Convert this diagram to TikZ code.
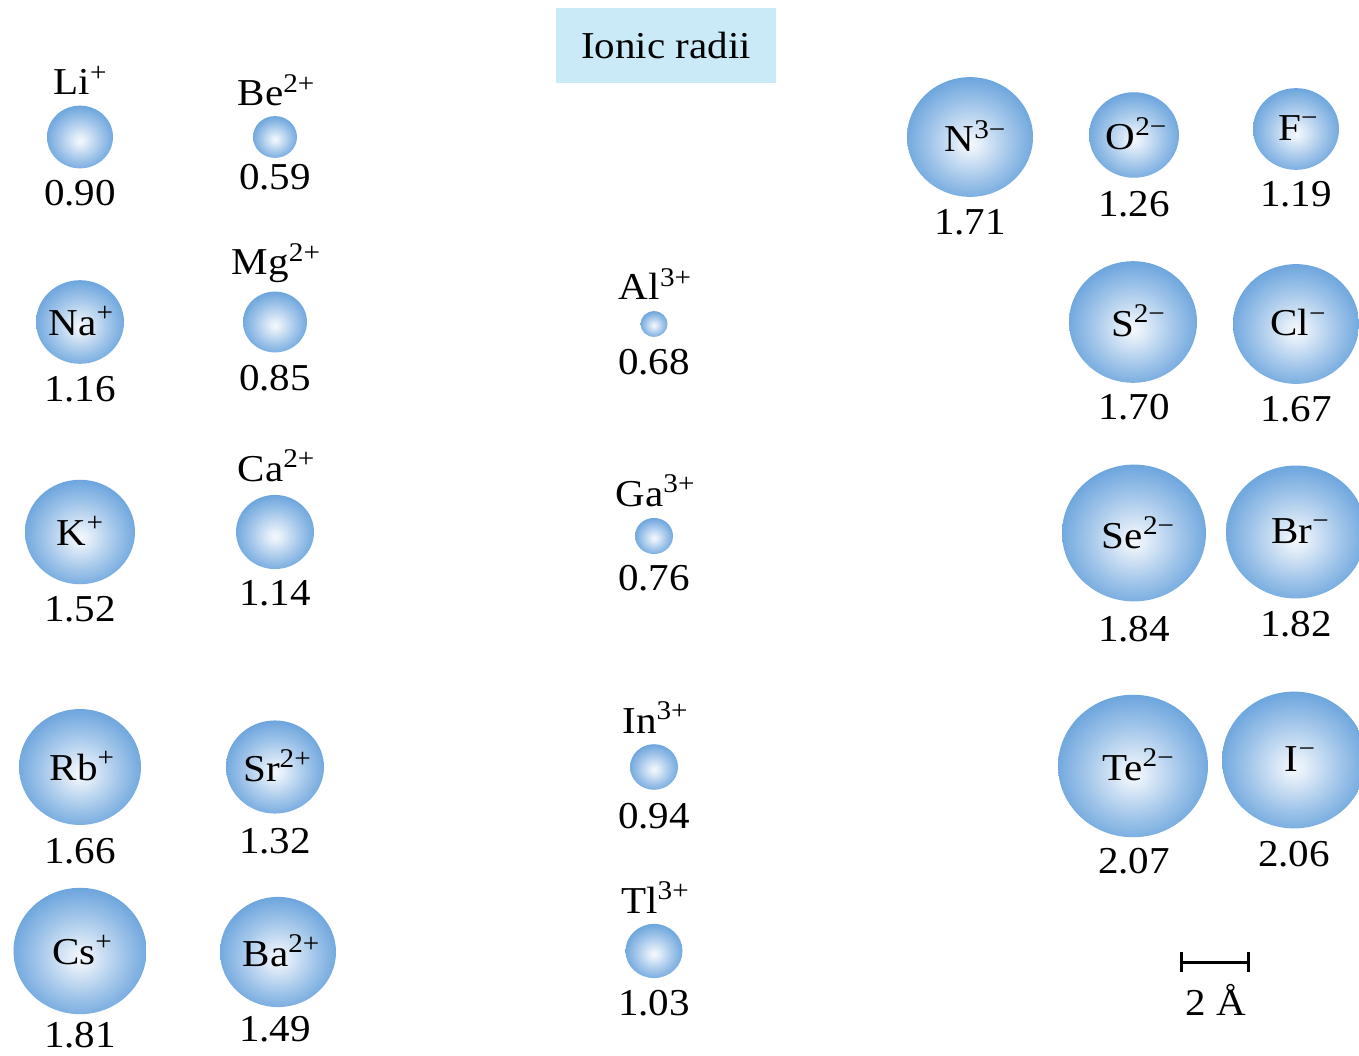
\documentclass[tikz,border=0pt]{standalone}
\usepackage{fontspec}
\setmainfont[FakeStretch=1.08]{Liberation Serif}
\usepackage{xcolor}
\usepackage{tikz}
\usetikzlibrary{arrows.meta,shapes.geometric}
\definecolor{ionblue}{RGB}{68,140,212}
\definecolor{titleblue}{RGB}{202,234,248}
\pgfdeclareradialshading{ionshade}{\pgfpoint{0bp}{-3bp}}{color(0bp)=(white!94!ionblue); color(4bp)=(white!85!ionblue); color(16bp)=(ionblue!50); color(30bp)=(ionblue!88); color(42bp)=(ionblue); color(50bp)=(ionblue!94!black)}
\tikzset{every node/.style={font=\fontsize{38}{42}\selectfont}}
\newcommand{\chg}[1]{\raisebox{0.36em}{\fontsize{27}{30}\selectfont #1}}
\newcommand{\pl}[1]{\chg{#1+}}
\newcommand{\mi}[1]{\chg{#1−}}

\begin{document}
\begin{tikzpicture}[
  x=1pt, y=-1pt,
  ion/.style={
    ellipse,
    shading=ionshade,
    inner sep=0pt,
    minimum width=#1 pt,
    minimum height=0.95*#1 pt
  },
  lbl/.style={inner sep=0pt, anchor=base},
  inlbl/.style={inner sep=0pt},
  val/.style={inner sep=0pt, anchor=base},
  titlebox/.style={
    fill=titleblue,
    inner sep=0pt,
    minimum width=220pt,
    minimum height=75pt
  }
]
\useasboundingbox (0,0) rectangle (1359,1056);

\node[titlebox] (title) at (666,45.5) {Ionic radii};

% +1 cations
\node[lbl] (lilab) at (80,95) {Li\pl{}};
\node[ion=66] (li) at (80,137) {};
\node[val] (lival) at (80,206) {0.90};

\node[ion=88] (na) at (80,322) {};
\node[inlbl] (nalab) at (81,321) {Na\pl{}};
\node[val] (naval) at (80,401) {1.16};

\node[ion=110] (k) at (80,532) {};
\node[inlbl] (klab) at (80,531) {K\pl{}};
\node[val] (kval) at (80,621) {1.52};

\node[ion=122] (rb) at (80,767) {};
\node[inlbl] (rblab) at (82,766) {Rb\pl{}};
\node[val] (rbval) at (80,863) {1.66};

\node[ion=133] (cs) at (80,951) {};
\node[inlbl] (cslab) at (82,950) {Cs\pl{}};
\node[val] (csval) at (80,1047) {1.81};

% +2 cations
\node[lbl] (belab) at (276,106) {Be\pl{2}};
\node[ion=44] (be) at (275,137) {};
\node[val] (beval) at (275,190) {0.59};

\node[lbl] (mglab) at (276,275) {Mg\pl{2}};
\node[ion=64] (mg) at (275,322) {};
\node[val] (mgval) at (275,390) {0.85};

\node[lbl] (calab) at (276,481) {Ca\pl{2}};
\node[ion=78] (ca) at (275,532) {};
\node[val] (caval) at (275,605) {1.14};

\node[ion=98] (sr) at (275,767) {};
\node[inlbl] (srlab) at (277,766) {Sr\pl{2}};
\node[val] (srval) at (275,853) {1.32};

\node[ion=116] (ba) at (278,952) {};
\node[inlbl] (balab) at (281,951) {Ba\pl{2}};
\node[val] (baval) at (275,1041) {1.49};

% +3 cations
\node[lbl] (allab) at (655,300) {Al\pl{3}};
\node[ion=27] (al) at (654,324) {};
\node[val] (alval) at (654,374) {0.68};

\node[lbl] (galab) at (655,506) {Ga\pl{3}};
\node[ion=38] (ga) at (654,536) {};
\node[val] (gaval) at (654,590) {0.76};

\node[lbl] (inlab) at (655,733) {In\pl{3}};
\node[ion=48] (in) at (654,767) {};
\node[val] (inval) at (654,828) {0.94};

\node[lbl] (tllab) at (655,913) {Tl\pl{3}};
\node[ion=57] (tl) at (654,951) {};
\node[val] (tlval) at (654,1015) {1.03};

% anions
\node[ion=126] (n) at (970,137) {};
\node[inlbl] (nlab) at (975,136) {N\mi{3}};
\node[val] (nval) at (970,235) {1.71};

\node[ion=90] (o) at (1134,135) {};
\node[inlbl] (olab) at (1136,134) {O\mi{2}};
\node[val] (oval) at (1134,217) {1.26};

\node[ion=86] (f) at (1296,129) {};
\node[inlbl] (flab) at (1298,128) {F\mi{}};
\node[val] (fval) at (1296,207) {1.19};

\node[ion=128] (s) at (1133,322) {};
\node[inlbl] (slab) at (1138,321) {S\mi{2}};
\node[val] (sval) at (1134,419) {1.70};

\node[ion=126] (cl) at (1296,324) {};
\node[inlbl] (cllab) at (1298,323) {Cl\mi{}};
\node[val] (clval) at (1296,421) {1.67};

\node[ion=144] (se) at (1134,533) {};
\node[inlbl] (selab) at (1138,533) {Se\mi{2}};
\node[val] (seval) at (1134,641) {1.84};

\node[ion=140] (br) at (1296,532) {};
\node[inlbl] (brlab) at (1300,531) {Br\mi{}};
\node[val] (brval) at (1296,636) {1.82};

\node[ion=150] (te) at (1133,766) {};
\node[inlbl] (telab) at (1138,765) {Te\mi{2}};
\node[val] (teval) at (1134,873) {2.07};

\node[ion=144] (i) at (1294,760) {};
\node[inlbl] (ilab) at (1300,759) {I\mi{}};
\node[val] (ival) at (1294,866) {2.06};

% scale
\coordinate (barl) at (1180,962);
\coordinate (barr) at (1250,962);
\draw[line width=3pt, {Bar[width=20pt]}-{Bar[width=20pt]}] (barl) -- (barr);
\node[val] (barval) at (1216,1015) {2 Å};

\end{tikzpicture}
\end{document}
